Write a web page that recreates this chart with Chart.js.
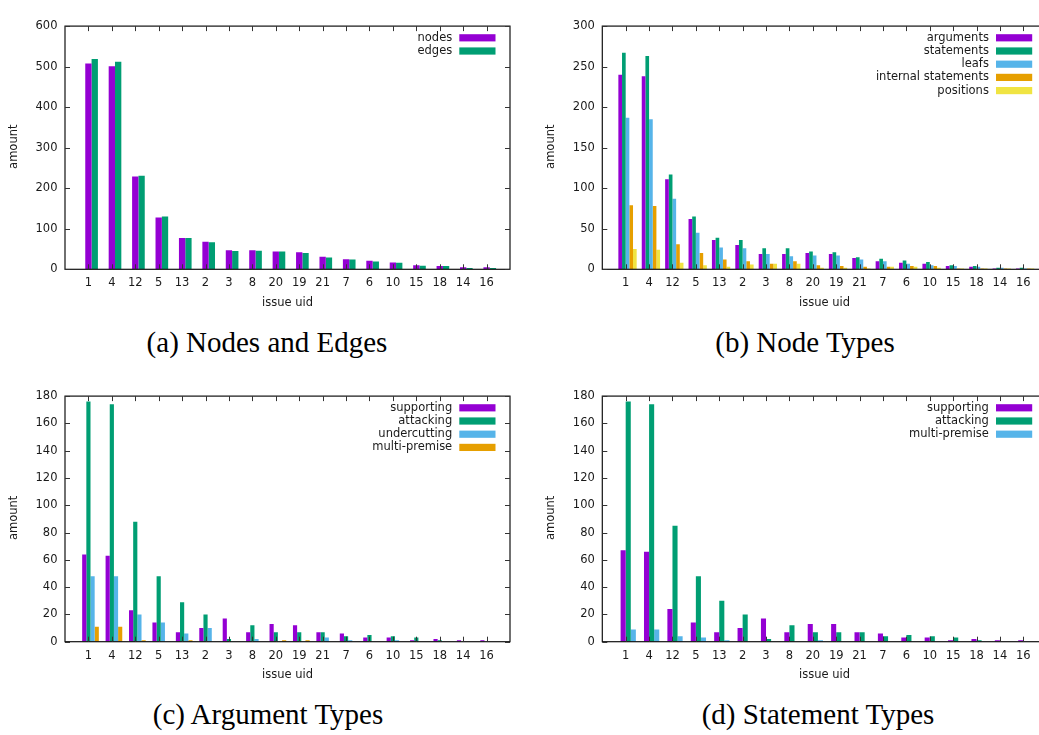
<!DOCTYPE html>
<html>
<head>
<meta charset="utf-8">
<script src="https://cdn.jsdelivr.net/npm/chart.js@4"></script>
<style>
  html, body { margin: 0; padding: 0; background: #fff; }
  body { width: 1039px; height: 735px; overflow: hidden; position: relative; }
  canvas { position: absolute; }
  .cap { position: absolute; font-family: "Liberation Serif", "Times New Roman", serif; font-size: 29px; line-height: 29px; white-space: nowrap; transform: translateX(-50%); color: #000; }
</style>
</head>
<body>
<canvas id="chartA" width="525" height="325" style="left:0px;top:0px"></canvas>
<canvas id="chartB" width="530" height="325" style="left:530px;top:0px"></canvas>
<canvas id="chartC" width="525" height="325" style="left:0px;top:370px"></canvas>
<canvas id="chartD" width="530" height="325" style="left:530px;top:370px"></canvas>
<div class="cap" style="left:267px;top:328px">(a) Nodes and Edges</div>
<div class="cap" style="left:805px;top:328px">(b) Node Types</div>
<div class="cap" style="left:268px;top:700px">(c) Argument Types</div>
<div class="cap" style="left:818px;top:700px">(d) Statement Types</div>
<script>
// Data
const issueUids = ['1', '4', '12', '5', '13', '2', '3', '8', '20', '19', '21', '7', '6', '10', '15', '18', '14', '16'];

const nodes = [508, 501, 229, 128, 77, 68, 47, 47, 44, 42, 31, 25, 21, 17, 10, 8, 5, 5];
const edges = [519, 512, 231, 130, 77, 67, 45, 46, 44, 40, 29, 24, 19, 16, 9, 8, 3, 3];

const argumentsCount = [240, 238, 111, 62, 36, 30, 19, 19, 20, 19, 14, 10, 8, 7, 4, 3, 1, 1];
const statements = [267, 263, 117, 65, 39, 36, 26, 26, 22, 21, 15, 13, 11, 9, 5, 4, 2, 2];
const leafs = [187, 185, 87, 45, 27, 26, 19, 16, 17, 17, 12, 10, 7, 5, 4, 3, 2, 1];
const internalStatements = [79, 78, 31, 20, 12, 10, 7, 10, 5, 4, 3, 3, 4, 4, 1, 1, 1, 1];
const positions = [25, 24, 8, 5, 3, 6, 7, 7, 2, 2, 1, 3, 3, 2, 1, 1, 1, 1];

const argSupporting = [64, 63, 23, 14, 7, 10, 17, 7, 13, 12, 7, 6, 3, 3, 1, 2, 1, 1];
const argAttacking = [176, 174, 88, 48, 29, 20, 2, 12, 7, 7, 7, 4, 5, 4, 3, 1, 0, 0];
const argUndercutting = [48, 48, 20, 14, 6, 10, 0, 2, 0, 0, 3, 1, 0, 1, 0, 0, 0, 0];
const argMultiPremise = [11, 11, 1, 0, 1, 0, 0, 0, 1, 1, 0, 0, 0, 0, 0, 0, 0, 0];

const stmtSupporting = [67, 66, 24, 14, 7, 10, 17, 7, 13, 13, 7, 6, 3, 3, 1, 2, 1, 1];
const stmtAttacking = [176, 174, 85, 48, 30, 20, 2, 12, 7, 7, 7, 4, 5, 4, 3, 1, 0, 0];
const stmtMultiPremise = [9, 9, 4, 3, 1, 0, 0, 0, 1, 0, 0, 0, 0, 0, 0, 0, 0, 0];

// Config
const PURPLE = '#9400d3';
const GREEN = '#009e73';
const BLUE = '#56b4e9';
const ORANGE = '#e69f00';
const YELLOW = '#f0e442';
const TEXT_COLOR = '#1a1a1a';
const FONT = { family: 'DejaVu Sans', size: 11.5 };

// gnuplot-like frame, inward ticks, axis titles and legend
const framePlugin = {
	id: 'frame',
	afterDatasetsDraw(chart) {
		const { ctx, chartArea: ca, scales: { x, y } } = chart;
		const half = (ca.right - ca.left) / x.ticks.length / 2;
		const L = ca.left - half;
		const R = ca.right + half;
		const T = ca.top;
		const B = ca.bottom;

		ctx.save();
		ctx.strokeStyle = '#111';
		ctx.lineWidth = 1.2;
		ctx.strokeRect(L, T, R - L, B - T);

		ctx.lineWidth = 1;
		ctx.strokeStyle = '#333';
		ctx.beginPath();
		x.ticks.forEach((t, i) => {
			const px = Math.round(x.getPixelForTick(i)) + 0.5;
			ctx.moveTo(px, B); ctx.lineTo(px, B - 5);
			ctx.moveTo(px, T); ctx.lineTo(px, T + 5);
		});
		y.ticks.forEach((t, i) => {
			const py = Math.round(y.getPixelForTick(i)) + 0.5;
			ctx.moveTo(L, py); ctx.lineTo(L + 5, py);
			ctx.moveTo(R, py); ctx.lineTo(R - 5, py);
		});
		ctx.stroke();

		ctx.fillStyle = TEXT_COLOR;
		ctx.font = `${FONT.size}px "${FONT.family}"`;
		ctx.textAlign = 'center';
		ctx.textBaseline = 'middle';
		ctx.fillText('issue uid', (L + R) / 2, B + 33.4);

		ctx.save();
		ctx.translate(L - 51, (T + B) / 2 - 1);
		ctx.rotate(-Math.PI / 2);
		ctx.fillText('amount', 0, 0);
		ctx.restore();

		// legend
		const items = chart.data.datasets.filter(d => d.label);
		ctx.textAlign = 'right';
		items.forEach((d, i) => {
			const cy = T + 11.7 + i * 13.2;
			ctx.fillStyle = TEXT_COLOR;
			ctx.fillText(d.label, R - 57.8, cy);
			ctx.fillStyle = d.backgroundColor;
			ctx.fillRect(R - 50.7, cy - 3.6, 36.2, 7.2);
		});
		ctx.restore();
	}
};

function makePanel(id, canvasPos, frame, series, yMax, yStep, groupPct) {
	const canvas = document.getElementById(id);
	const W = canvas.width;
	const H = canvas.height;
	const n = issueUids.length;
	const s = (frame.R - frame.L) / (n + 1);
	const caL = frame.L - canvasPos.x + s / 2;
	const caR = frame.R - canvasPos.x - s / 2;
	const caT = frame.T - canvasPos.y;
	const caB = frame.B - canvasPos.y;

	// empty leading dataset shifts the bar cluster like gnuplot does
	const datasets = [{ label: '', data: issueUids.map(() => null), backgroundColor: 'rgba(0,0,0,0)' }]
		.concat(series.map(([label, data, color]) => ({ label, data, backgroundColor: color })));

	new Chart(canvas.getContext('2d'), {
		type: 'bar',
		data: { labels: issueUids, datasets },
		options: {
			responsive: false,
			animation: false,
			layout: { padding: { left: 0, top: caT, right: W - caR, bottom: 0 } },
			datasets: { bar: { categoryPercentage: groupPct, barPercentage: 1, borderWidth: 0 } },
			plugins: { legend: { display: false }, tooltip: { enabled: false } },
			scales: {
				x: {
					offset: true,
					grid: { display: false, drawTicks: false },
					border: { display: false },
					ticks: { font: FONT, color: TEXT_COLOR, padding: 7, maxRotation: 0, autoSkip: false },
					afterFit: sc => { sc.height = H - caB; }
				},
				y: {
					min: 0,
					max: yMax,
					grid: { display: false, drawTicks: false },
					border: { display: false },
					ticks: { font: FONT, color: TEXT_COLOR, stepSize: yStep, padding: s / 2 + 7.5 },
					afterFit: sc => { sc.width = caL; }
				}
			}
		},
		plugins: [framePlugin]
	});
}

// Init
makePanel('chartA', { x: 0, y: 0 }, { L: 65, R: 510, T: 9.3, B: 269.3 },
	[['nodes', nodes, PURPLE], ['edges', edges, GREEN]], 600, 100, 0.81);

makePanel('chartB', { x: 530, y: 0 }, { L: 602.3, R: 1046.7, T: 9.3, B: 269.3 },
	[['arguments', argumentsCount, PURPLE], ['statements', statements, GREEN], ['leafs', leafs, BLUE],
	 ['internal statements', internalStatements, ORANGE], ['positions', positions, YELLOW]], 300, 50, 0.94);

makePanel('chartC', { x: 0, y: 370 }, { L: 65, R: 510, T: 381.7, B: 641.7 },
	[['supporting', argSupporting, PURPLE], ['attacking', argAttacking, GREEN],
	 ['undercutting', argUndercutting, BLUE], ['multi-premise', argMultiPremise, ORANGE]], 180, 20, 0.89);

makePanel('chartD', { x: 530, y: 370 }, { L: 602.3, R: 1046.7, T: 381.7, B: 641.7 },
	[['supporting', stmtSupporting, PURPLE], ['attacking', stmtAttacking, GREEN],
	 ['multi-premise', stmtMultiPremise, BLUE]], 180, 20, 0.87);
</script>
</body>
</html>
